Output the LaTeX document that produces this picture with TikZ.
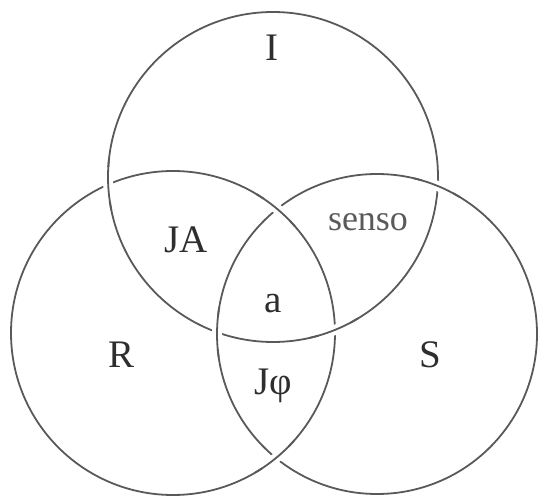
\documentclass[tikz,border=0pt]{standalone}
\usepackage{fontspec}
\setmainfont{Liberation Serif}
\definecolor{ringc}{HTML}{595959}
\definecolor{textc}{HTML}{2e2e2e}
\definecolor{sensoc}{HTML}{5a5a5a}
\begin{document}
\begin{tikzpicture}[x=1pt,y=1pt,
  ring/.style={draw=ringc,line width=1.8pt},
  gapw/.style={draw=white,line width=10pt},
  lbl/.style={text=textc,font=\fontsize{39}{42}\selectfont,inner sep=0pt}]
\useasboundingbox (0,0) rectangle (538,498);
\coordinate (cI) at (273,321);
\coordinate (cR) at (173,165);
\coordinate (cS) at (377,164);
\draw[ring] (cI) circle[radius=165pt];
\draw[ring] (cR) circle[radius=162pt];
\draw[ring] (cS) circle[radius=160pt];
% I over R
\foreach \a in {-67.9,182.6}{
  \draw[gapw,shift={(cI)}] (\a-6:165pt) arc[start angle=\a-6,end angle=\a+6,radius=165pt];
  \draw[ring,shift={(cI)}] (\a-9:165pt) arc[start angle=\a-9,end angle=\a+9,radius=165pt];
}
% S over I
\foreach \a in {67.7,179.4}{
  \draw[gapw,shift={(cS)}] (\a-6:160pt) arc[start angle=\a-6,end angle=\a+6,radius=160pt];
  \draw[ring,shift={(cS)}] (\a-9:160pt) arc[start angle=\a-9,end angle=\a+9,radius=160pt];
}
% R over S
\foreach \a in {50.0,-50.5}{
  \draw[gapw,shift={(cR)}] (\a-6:162pt) arc[start angle=\a-6,end angle=\a+6,radius=162pt];
  \draw[ring,shift={(cR)}] (\a-9:162pt) arc[start angle=\a-9,end angle=\a+9,radius=162pt];
}
\node[lbl] (tI) at (272,450) {I};
\node[lbl] (tJA) at (186,258) {JA};
\node[lbl,text=sensoc,font=\fontsize{36}{40}\selectfont] (tsenso) at (368,276) {senso};
\node[lbl] (ta) at (273,194) {a};
\node[lbl] (tR) at (122,143) {R};
\node[lbl] (tS) at (430,143) {S};
\node[lbl] (tJphi) at (273,112) {Jφ};
\end{tikzpicture}
\end{document}
